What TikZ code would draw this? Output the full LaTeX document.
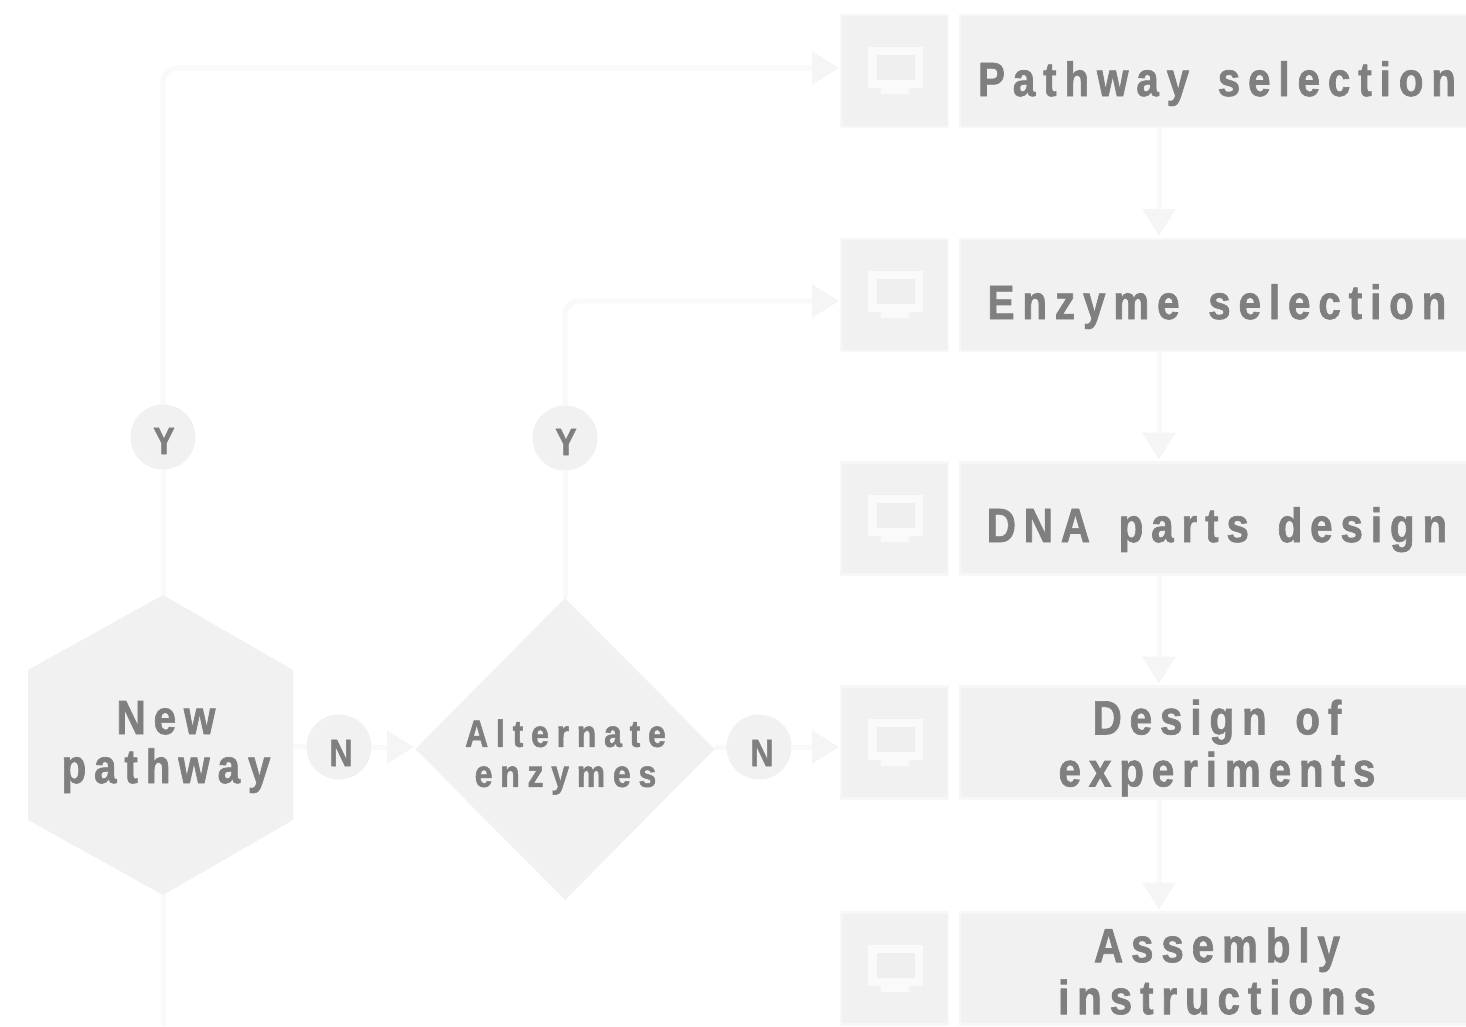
\documentclass[tikz,border=0pt]{standalone}
\usepackage{fontspec}
\setmainfont{Liberation Sans}
\newfontfamily\labelfont{Liberation Sans}[FakeStretch=0.84,LetterSpace=16.5,WordSpace=1.5,BoldFeatures={FakeBold=1.4}]
\newfontfamily\widelabelfont{Liberation Sans}[FakeStretch=0.84,LetterSpace=20.5,BoldFeatures={FakeBold=1.4}]
\usetikzlibrary{arrows.meta,shapes.geometric,backgrounds}
\definecolor{shapefill}{HTML}{F1F1F1}
\definecolor{shapeedge}{HTML}{F7F7F7}
\definecolor{linecol}{HTML}{F9F9F9}
\definecolor{headcol}{HTML}{F5F5F5}
\definecolor{labelcol}{HTML}{7F7F7F}
\definecolor{iconlight}{HTML}{FAFAFA}
\definecolor{iconmid}{HTML}{EFEFEF}
\tikzset{
  every node/.style={inner sep=0pt,outer sep=0pt},
  iconbox/.style={rectangle,fill=shapefill,draw=shapeedge,line width=2.5pt,minimum width=107pt,minimum height=112pt},
  textbox/.style={rectangle,fill=shapefill,draw=shapeedge,line width=2.5pt,minimum width=514pt,minimum height=112pt},
  boxlabel/.style={align=center,text=labelcol,font=\labelfont\bfseries\fontsize{48}{52}\selectfont},
  circlelabel/.style={circle,fill=shapefill,minimum size=65pt},
  letter/.style={text=labelcol,font=\labelfont\bfseries\fontsize{38}{40}\selectfont},
  connector/.style={draw=linecol,line width=5pt,rounded corners=14pt},
  arrowconn/.style={connector,-{Triangle[length=27pt,width=32pt,color=headcol]}},
}
\newcommand{\monitoricon}[2]{%
  \fill[iconlight] (#1-27,#2-24) rectangle (#1+28,#2+17);
  \fill[iconlight] (#1-14,#2+17) rectangle (#1+14,#2+23);
  \fill[iconmid] (#1-18,#2-16) rectangle (#1+20,#2+9);
}
\begin{document}
\begin{tikzpicture}[x=1pt,y=-1pt]
\useasboundingbox (0,0) rectangle (1466,1026);

% right column
\node[iconbox] (ic1) at (894.5,71) {};
\node[iconbox] (ic2) at (894.5,295) {};
\node[iconbox] (ic3) at (894.5,518.5) {};
\node[iconbox] (ic4) at (894.5,742.5) {};
\node[iconbox] (ic5) at (894.5,968.5) {};
\node[textbox] (tb1) at (1217,71) {};
\node[textbox] (tb2) at (1217,295) {};
\node[textbox] (tb3) at (1217,518.5) {};
\node[textbox] (tb4) at (1217,742.5) {};
\node[textbox] (tb5) at (1217,968.5) {};
\node[boxlabel,anchor=base] (t1) at (1217,96) {Pathway selection};
\node[boxlabel,anchor=base] (t2) at (1217,319) {Enzyme selection};
\node[boxlabel,anchor=base] (t3) at (1217,542) {DNA parts design};
\node[boxlabel] (t4) at (1217,748) {Design of\\experiments};
\node[boxlabel] (t5) at (1217,971) {Assembly\\instructions};
\monitoricon{895}{71}
\monitoricon{895}{295}
\monitoricon{895}{518.5}
\monitoricon{895}{742.5}
\monitoricon{895}{968.5}

% decision shapes
\fill[shapefill] (163,595) -- (293,670) -- (293,820) -- (163,895) -- (28,820) -- (28,670) -- cycle;
\node[boxlabel,font=\labelfont\bfseries\fontsize{48}{49}\selectfont] (hex) at (166,747) {New\\pathway};
\coordinate (hexN) at (163,595);
\coordinate (hexS) at (163,895);
\coordinate (hexE) at (293,746);
\node[diamond,aspect=1,fill=shapefill,minimum width=299pt,minimum height=302pt] (dia) at (565,749) {};
\node[boxlabel,font=\widelabelfont\bfseries\fontsize{38}{40}\selectfont] (diat) at (565.5,757) {Alternate\\enzymes};

% round labels
\node[circlelabel] (yA) at (163,437) {};
\node[circlelabel] (yB) at (565,438) {};
\node[circlelabel] (nA) at (339,747) {};
\node[circlelabel] (nB) at (759,747) {};
\node[letter,anchor=base] (yAt) at (164,454) {Y};
\node[letter,anchor=base] (yBt) at (566,455) {Y};
\node[letter,anchor=base] (nAt) at (341,766) {N};
\node[letter,anchor=base] (nBt) at (762,766) {N};

% free ends
\coordinate (entry1) at (839,68);
\coordinate (entry2) at (839,301);
\coordinate (entry4) at (839,747);
\coordinate (diaW) at (414,747);
\coordinate (pageS) at (163,1026);

\begin{pgfonlayer}{background}
  \fill[white] (0,0) rectangle (1466,1026);
  \draw[connector] (hexN) -- (yA.south);
  \draw[arrowconn] (yA.north) |- (entry1);
  \draw[connector] (dia.north) -- (yB.south);
  \draw[arrowconn] (yB.north) |- (entry2);
  \draw[connector] (hexE) -- (nA.west);
  \draw[arrowconn] (nA.east) -- (diaW);
  \draw[connector] (dia.east |- nB.west) -- (nB.west);
  \draw[arrowconn] (nB.east) -- (entry4);
  \draw[connector] (hexS) -- (pageS);
  \draw[arrowconn] ([xshift=-58pt]tb1.south) -- ([xshift=-58pt,yshift=3pt]tb2.north);
  \draw[arrowconn] ([xshift=-58pt]tb2.south) -- ([xshift=-58pt,yshift=3pt]tb3.north);
  \draw[arrowconn] ([xshift=-58pt]tb3.south) -- ([xshift=-58pt,yshift=3pt]tb4.north);
  \draw[arrowconn] ([xshift=-58pt]tb4.south) -- ([xshift=-58pt,yshift=3pt]tb5.north);
\end{pgfonlayer}
\end{tikzpicture}
\end{document}
